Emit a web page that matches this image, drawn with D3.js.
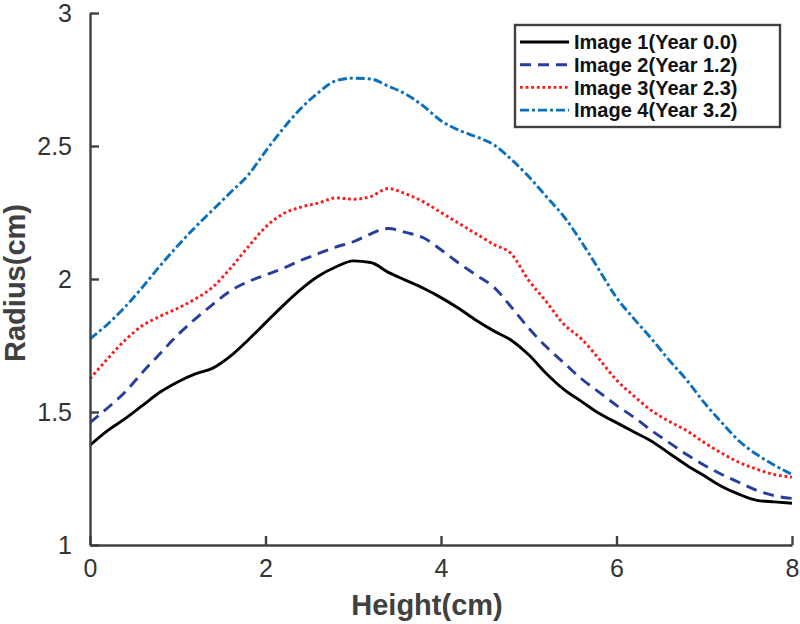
<!DOCTYPE html>
<html><head><meta charset="utf-8">
<script src="https://cdn.jsdelivr.net/npm/d3@7"></script>
<style>
html,body{margin:0;padding:0;background:#fff;}
svg{display:block;font-family:"Liberation Sans",Arial,Helvetica,sans-serif;}
</style></head>
<body><svg id="chart" width="800" height="624"></svg>
<script>
const heights = [0,0.2,0.4,0.6,0.8,1.0,1.2,1.4,1.6,1.8,2.0,2.2,2.4,2.6,2.8,3.0,3.2,3.4,3.6,3.8,4.0,4.2,4.4,4.6,4.8,5.0,5.2,5.4,5.6,5.8,6.0,6.2,6.4,6.6,6.8,7.0,7.2,7.4,7.6,7.8,8.0];
const image1 = [1.375,1.43,1.475,1.525,1.575,1.613,1.643,1.665,1.71,1.77,1.835,1.90,1.96,2.01,2.045,2.068,2.062,2.025,1.995,1.965,1.93,1.89,1.845,1.805,1.77,1.715,1.645,1.585,1.54,1.495,1.46,1.425,1.39,1.345,1.30,1.26,1.22,1.19,1.168,1.162,1.157];
const image2 = [1.46,1.515,1.575,1.65,1.72,1.79,1.85,1.905,1.955,1.99,2.015,2.04,2.07,2.095,2.12,2.14,2.17,2.19,2.175,2.155,2.11,2.06,2.015,1.97,1.895,1.815,1.745,1.685,1.625,1.575,1.525,1.48,1.43,1.385,1.34,1.30,1.265,1.235,1.205,1.185,1.175];
const image3 = [1.625,1.70,1.77,1.825,1.86,1.89,1.925,1.97,2.04,2.12,2.195,2.245,2.27,2.285,2.305,2.30,2.31,2.34,2.32,2.29,2.25,2.21,2.17,2.13,2.095,1.995,1.915,1.83,1.775,1.70,1.62,1.56,1.505,1.465,1.43,1.385,1.345,1.31,1.285,1.265,1.255];
const image4 = [1.775,1.83,1.895,1.97,2.05,2.125,2.195,2.26,2.325,2.39,2.48,2.565,2.64,2.70,2.745,2.755,2.752,2.725,2.695,2.65,2.595,2.56,2.535,2.505,2.45,2.385,2.31,2.235,2.14,2.035,1.93,1.85,1.775,1.695,1.62,1.535,1.46,1.39,1.34,1.30,1.265];
const seriesNames = ["Image 1(Year 0.0)","Image 2(Year 1.2)","Image 3(Year 2.3)","Image 4(Year 3.2)"];
const xTicks = [0,2,4,6,8];
const yTicks = [1,1.5,2,2.5,3];

const svg = d3.select("#chart");
const axisColor = "#404040";
const x = d3.scaleLinear().domain([0,8]).range([90,792]);
const y = d3.scaleLinear().domain([1,3]).range([545,13]);

const series = [
  {name: seriesNames[0], values: image1, color: "#000000", dash: null},
  {name: seriesNames[1], values: image2, color: "#263d9c", dash: "11,7"},
  {name: seriesNames[2], values: image3, color: "#ff1a1a", dash: "2.8,2.8"},
  {name: seriesNames[3], values: image4, color: "#0a6fbd", dash: "9,3,3,3"}
];

const line = d3.line().x(d => x(d[0])).y(d => y(d[1])).curve(d3.curveMonotoneX);
series.forEach(s => {
  svg.append("path")
    .datum(heights.map((h,i) => [h, s.values[i]]))
    .attr("d", line)
    .attr("fill","none")
    .attr("stroke", s.color)
    .attr("stroke-width", 2.9)
    .attr("stroke-dasharray", s.dash)
    .attr("stroke-linejoin","round");
});

// axes
const xAxis = svg.append("g").attr("transform","translate(0,545)")
  .call(d3.axisBottom(x).tickValues(xTicks).tickFormat(d3.format("d")).tickSizeInner(-9).tickSizeOuter(0).tickPadding(14));
const yAxis = svg.append("g").attr("transform","translate(90,0)")
  .call(d3.axisLeft(y).tickValues(yTicks).tickFormat(d => String(d)).tickSizeInner(-9).tickSizeOuter(0).tickPadding(18));
[xAxis,yAxis].forEach(g => {
  g.select(".domain").attr("stroke", axisColor).attr("stroke-width", 2.4);
  g.selectAll(".tick line").attr("stroke", axisColor).attr("stroke-width", 2.4);
  g.selectAll(".tick text").attr("fill", "#333").style("font-size","25px").style("font-family","'Liberation Sans',Arial,sans-serif");
});

// axis labels
svg.append("text").attr("x", 427).attr("y", 615).attr("text-anchor","middle")
  .attr("font-weight","bold").attr("font-size", 29).attr("fill","#404040").text("Height(cm)");
svg.append("text").attr("transform","translate(25,283) rotate(-90)").attr("text-anchor","middle")
  .attr("font-weight","bold").attr("font-size", 29).attr("fill","#404040").text("Radius(cm)");

// legend
const lg = svg.append("g");
lg.append("rect").attr("x",515).attr("y",25).attr("width",265).attr("height",102)
  .attr("fill","#fff").attr("stroke","#404040").attr("stroke-width",2.4);
series.forEach((s,i) => {
  const cy = 42 + i*22.7;
  lg.append("line").attr("x1",520).attr("x2",569).attr("y1",cy).attr("y2",cy)
    .attr("stroke", s.color).attr("stroke-width",2.9).attr("stroke-dasharray", s.dash);
  lg.append("text").attr("x",574).attr("y",cy).attr("dy","0.36em")
    .attr("font-weight","bold").attr("font-size",20).attr("fill","#111").text(s.name);
});
</script></body></html>
